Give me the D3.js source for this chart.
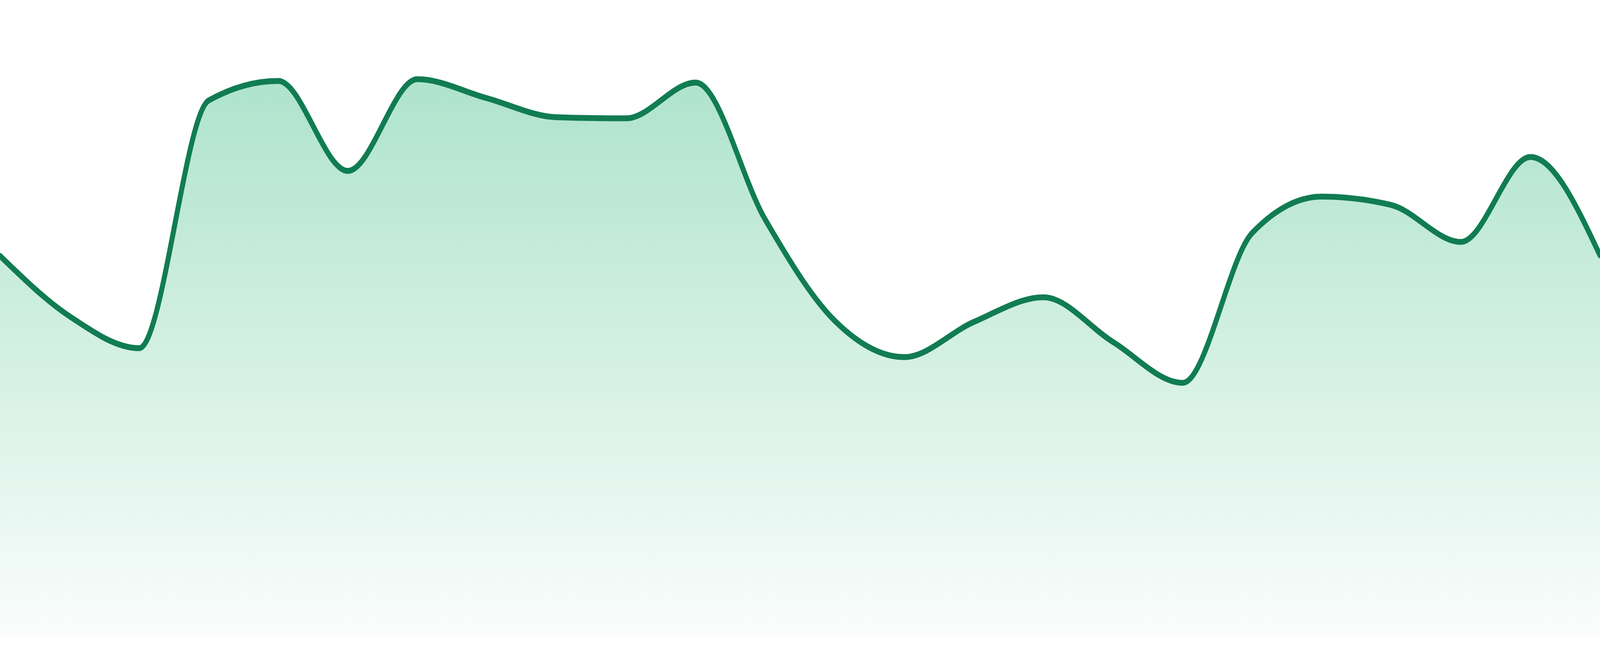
<!DOCTYPE html>
<html>
<head>
<meta charset="utf-8">
<script src="https://cdn.jsdelivr.net/npm/d3@7/dist/d3.min.js"></script>
<style>
    html, body { margin: 0; padding: 0; width: 100%; height: 100%; overflow: hidden; background: #ffffff; }
    svg { display: block; width: 100vw; height: 100vh; }
</style>
</head>
<body>
<svg id="chart"></svg>
<script>
const CHART_WIDTH = 4800;
const CHART_HEIGHT = 1680;
const BASELINE_Y = 1632;
const TOP_Y = 200;
const LINE_COLOR = '#117c52';
const LINE_WIDTH = 15;
const FILL_TOP_COLOR = '#aee3cc';
const FILL_BOTTOM_COLOR = '#fafdfc';
const GRADIENT_ID = 'area-fill';

// one sample per step
const steps = [0, 1, 2, 3, 4, 5, 6, 7, 8, 9, 10, 11, 12, 13, 14, 15, 16, 17, 18, 19, 20, 21, 22, 23];
const values = [68.2, 57.4, 51.7, 96.0, 99.5, 83.4, 99.8, 96.4, 93.0, 92.8, 99.2, 74.7,
    56.6, 50.1, 56.4, 60.8, 52.8, 45.5, 72.3, 78.8, 77.3, 70.7, 85.9, 68.3];
const valueDomain = [0, 100];

const data = steps.map((step, i) => ({ step, value: values[i] }));

const x = d3.scaleLinear()
    .domain(d3.extent(steps))
    .range([0, CHART_WIDTH]);

const y = d3.scaleLinear()
    .domain(valueDomain)
    .range([BASELINE_Y, TOP_Y]);

// drawn in a fixed 4800x1680 space and stretched to whatever the window is
const svg = d3.select('#chart')
    .attr('viewBox', [0, 0, CHART_WIDTH, CHART_HEIGHT])
    .attr('preserveAspectRatio', 'none');

const gradient = svg.append('defs')
    .append('linearGradient')
    .attr('id', GRADIENT_ID)
    .attr('gradientUnits', 'userSpaceOnUse')
    .attr('x1', 0)
    .attr('x2', 0)
    .attr('y1', y(valueDomain[1]))
    .attr('y2', y(valueDomain[0]));
gradient.append('stop').attr('offset', '0%').attr('stop-color', FILL_TOP_COLOR);
gradient.append('stop').attr('offset', '100%').attr('stop-color', FILL_BOTTOM_COLOR);

const area = d3.area()
    .x(d => x(d.step))
    .y0(y(valueDomain[0]))
    .y1(d => y(d.value))
    .curve(d3.curveMonotoneX);

const line = d3.line()
    .x(d => x(d.step))
    .y(d => y(d.value))
    .curve(d3.curveMonotoneX);

svg.append('path')
    .datum(data)
    .attr('fill', `url(#${GRADIENT_ID})`)
    .attr('d', area);

svg.append('path')
    .datum(data)
    .attr('fill', 'none')
    .attr('stroke', LINE_COLOR)
    .attr('stroke-width', LINE_WIDTH)
    .attr('stroke-linecap', 'round')
    .attr('stroke-linejoin', 'round')
    .attr('d', line);
</script>
</body>
</html>
